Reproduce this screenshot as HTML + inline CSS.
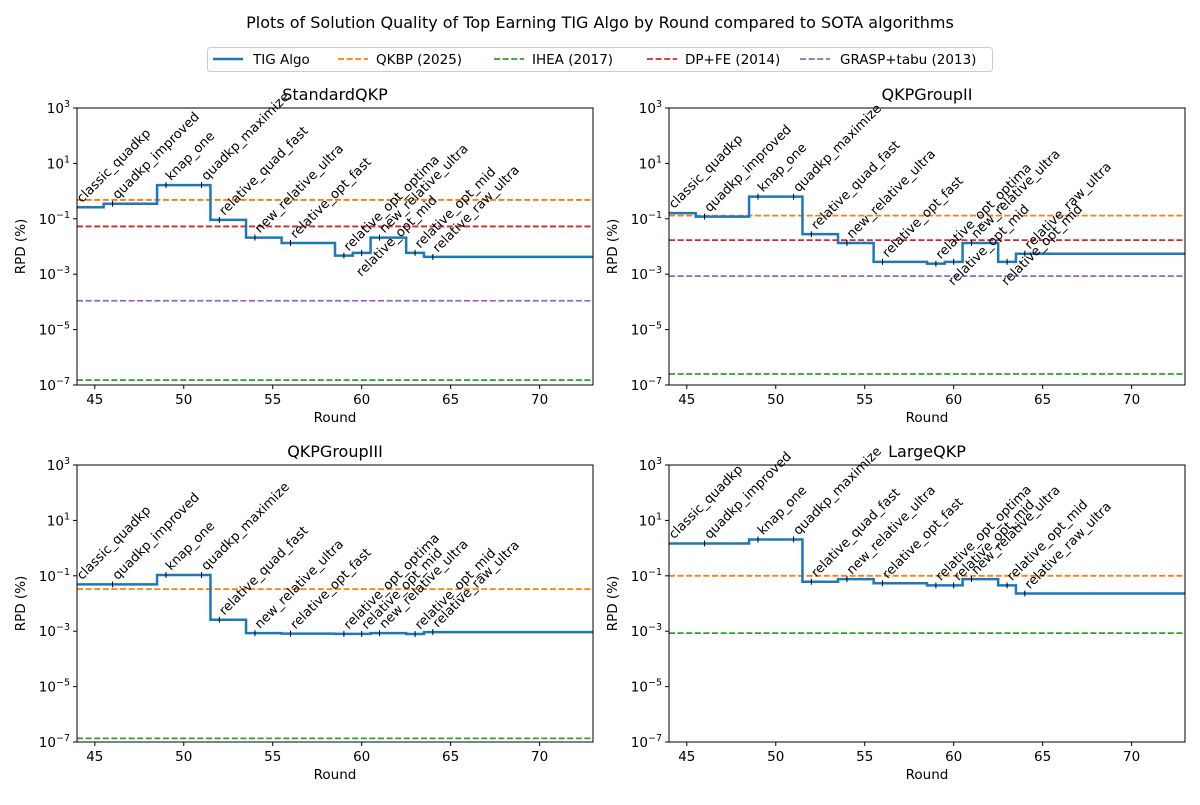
<!DOCTYPE html>
<html><head><meta charset="utf-8"><style>
body{margin:0;background:#fff}
svg text{font-family:"DejaVu Sans","Liberation Sans",sans-serif;fill:#000}
</style></head><body>
<svg id="fig" xmlns="http://www.w3.org/2000/svg" width="1200" height="800" viewBox="0 0 1200 800">
<rect width="1200" height="800" fill="#fff"/>
<text x="600" y="28" font-size="16" text-anchor="middle">Plots of Solution Quality of Top Earning TIG Algo by Round compared to SOTA algorithms</text>
<g>
<rect x="207.5" y="47.5" width="785" height="24" rx="3" fill="#fff" stroke="#ccc"/>
<g><line x1="213" y1="59" x2="243" y2="59" stroke="#1f77b4" stroke-width="2.5"/><text x="253" y="64" font-size="13.5">TIG Algo</text></g>
<g><line x1="338" y1="59" x2="368" y2="59" stroke="#ff7f0e" stroke-width="1.8" stroke-dasharray="6,2.6"/><text x="376" y="64" font-size="13.5">QKBP (2025)</text></g>
<g><line x1="494" y1="59" x2="524" y2="59" stroke="#2ca02c" stroke-width="1.8" stroke-dasharray="6,2.6"/><text x="532" y="64" font-size="13.5">IHEA (2017)</text></g>
<g><line x1="647" y1="59" x2="677" y2="59" stroke="#d62728" stroke-width="1.8" stroke-dasharray="6,2.6"/><text x="685" y="64" font-size="13.5">DP+FE (2014)</text></g>
<g><line x1="800" y1="59" x2="830" y2="59" stroke="#9467bd" stroke-width="1.8" stroke-dasharray="6,2.6"/><text x="840" y="64" font-size="13.5">GRASP+tabu (2013)</text></g>
</g>
</svg>
<script>
const rounds=[44,46,49,51,52,54,56,59,60,61,63,64];
const algoNames=["classic_quadkp","quadkp_improved","knap_one","quadkp_maximize","relative_quad_fast","new_relative_ultra","relative_opt_fast","relative_opt_optima","relative_opt_mid","new_relative_ultra","relative_opt_mid","relative_raw_ultra"];
const panelTitles=["StandardQKP","QKPGroupII","QKPGroupIII","LargeQKP"];
const rpdStandard=[0.26,0.35,1.65,1.65,0.091,0.021,0.0134,0.0047,0.0059,0.021,0.0059,0.0042];
const rpdGroupII=[0.16,0.12,0.63,0.63,0.028,0.0134,0.0028,0.0024,0.0028,0.0134,0.0028,0.0055];
const rpdGroupIII=[0.049,0.049,0.107,0.107,0.0026,0.00085,0.00082,0.0008,0.0008,0.00085,0.00079,0.00093];
const rpdLarge=[1.47,1.47,2.05,2.05,0.061,0.076,0.054,0.045,0.045,0.076,0.045,0.023];
const qkbpRef=[0.48,0.13,0.033,0.1];
const iheaRef=[1.5e-7,2.5e-7,1.35e-7,8.5e-4];
const dpfeRef=[0.053,0.017,null,null];
const graspRef=[1.1e-4,8.5e-4,null,null];
const flippedLabels=[[8],[8,10],[],[]];
const xTicks=[45,50,55,60,65,70];
const yTickExps=[3,1,-1,-3,-5,-7];

const NS="http://www.w3.org/2000/svg";
const svg=document.getElementById('fig');
function mk(tag,attrs,parent){const e=document.createElementNS(NS,tag);for(const k in attrs)e.setAttribute(k,attrs[k]);(parent||svg).appendChild(e);return e;}
const series=[rpdStandard,rpdGroupII,rpdGroupIII,rpdLarge];
const boxes=[[77,108],[669,108],[77,465],[669,465]];
const W=516,H=277,X0=44,X1=73;
series.forEach((vals,p)=>{
  const [L,T]=boxes[p];
  const xs=v=>L+(v-X0)/(X1-X0)*W;
  const ys=v=>T+(3-Math.log10(v))/10*H;
  const g=mk('g',{});
  
  
  const t=mk('text',{x:L+W/2,y:T-8,'font-size':16,'text-anchor':'middle'},g);t.textContent=panelTitles[p];
  
  
  const clipId='clip'+p;
  const cp=mk('clipPath',{id:clipId},g);mk('rect',{x:L,y:T,width:W,height:H},cp);
  const refs=[[qkbpRef,'#ff7f0e','qkbp-line'],[iheaRef,'#2ca02c','ihea-line'],[dpfeRef,'#d62728','dpfe-line'],[graspRef,'#9467bd','grasp-line']];
  refs.forEach(([arr,c,n])=>{if(arr[p]==null)return;const y=ys(arr[p]);
    const l=mk('line',{x1:L,x2:L+W,y1:y,y2:y,stroke:c,'stroke-width':1.8,'stroke-dasharray':'6,2.6'},g);
    
    });
  let d='M'+xs(X0)+','+ys(vals[0]);
  for(let i=1;i<vals.length;i++){const xe=xs(rounds[i]-0.5);d+=' H'+xe+' V'+ys(vals[i]);}
  d+=' H'+xs(X1);
  const path=mk('path',{d:d,fill:'none',stroke:'#1f77b4','stroke-width':2.5,'clip-path':'url(#'+clipId+')'},g);
  
  
  vals.forEach((v,i)=>{const x=xs(rounds[i]),y=ys(v);
    const m=mk('line',{x1:x,x2:x,y1:y-3,y2:y+3,stroke:'#000','stroke-width':1},g);
    
    
    const flip=flippedLabels[p].includes(i);
    const tx=flip?x+76:x+5,ty=flip?y-52:y-4;
    const lb=mk('text',{'font-size':13,'text-anchor':flip?'end':'start',transform:'translate('+tx+','+ty+') rotate(-45)'},g);
    lb.textContent=algoNames[i];
    
    });
  mk('rect',{x:L,y:T,width:W,height:H,fill:'none',stroke:'#000','stroke-width':1},g);
  xTicks.forEach(v=>{const x=xs(v);mk('line',{x1:x,x2:x,y1:T+H,y2:T+H+4,stroke:'#000'},g);
    const tt=mk('text',{x:x,y:T+H+19,'font-size':13.5,'text-anchor':'middle'},g);tt.textContent=v;
    
    });
  yTickExps.forEach(e=>{const y=ys(Math.pow(10,e));mk('line',{x1:L-4,x2:L,y1:y,y2:y,stroke:'#000'},g);
    const tt=mk('text',{x:L-7,y:y+5,'font-size':13.5,'text-anchor':'end'},g);
    
    
    const a=mk('tspan',{},tt);a.textContent='10';
    const b=mk('tspan',{dy:-6,'font-size':9.5},tt);b.textContent=(e<0?'\u2212':'')+Math.abs(e);});
  const xl=mk('text',{x:L+W/2,y:T+H+37,'font-size':13.5,'text-anchor':'middle'},g);xl.textContent='Round';
  
  
  const yl=mk('text',{'font-size':13.5,'text-anchor':'middle',transform:'translate('+(L-52)+','+(T+H/2)+') rotate(-90)'},g);yl.textContent='RPD (%)';
  
  
});
</script>
</body></html>
